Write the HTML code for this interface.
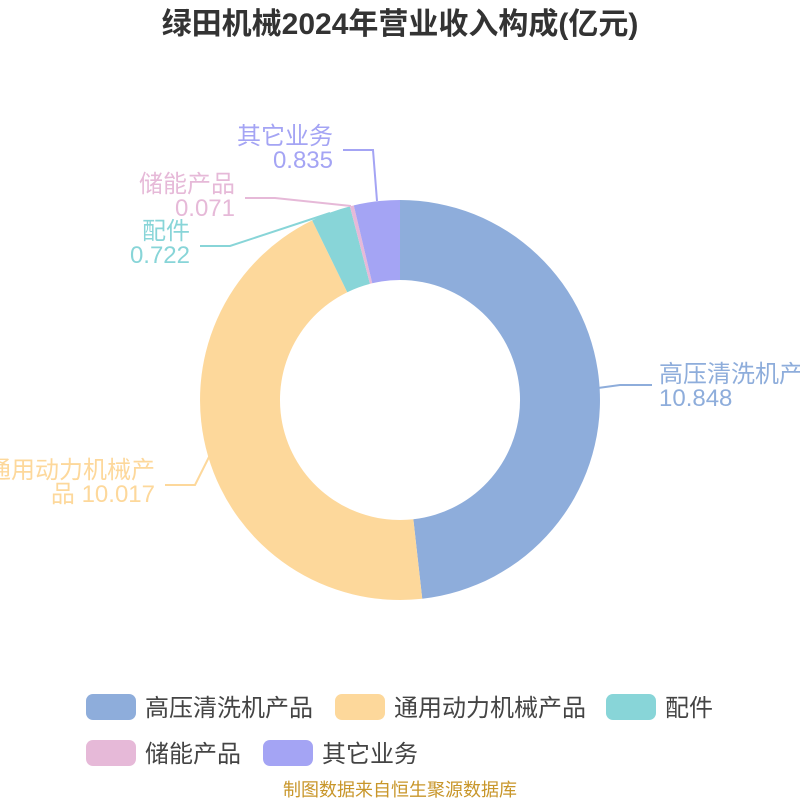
<!DOCTYPE html>
<html><head><meta charset="utf-8"><style>
body{margin:0;background:#fff;width:800px;height:800px;overflow:hidden}
svg text{font-family:"Liberation Sans","Noto Sans CJK SC",sans-serif}
</style></head><body>
<svg width="800" height="800" viewBox="0 0 800 800" xmlns="http://www.w3.org/2000/svg">
<text x="400" y="34" text-anchor="middle" font-size="30" font-weight="bold" fill="#333">绿田机械2024年营业收入构成(亿元)</text>
<path d="M400,200 A200,200 0 0 1 422.22,598.76 L413.33,519.26 A120,120 0 0 0 400,280 Z" fill="#8eaddb"/>
<path d="M422.22,598.76 A200,200 0 0 1 312.14,220.34 L347.28,292.20 A120,120 0 0 0 413.33,519.26 Z" fill="#fdd89b"/>
<path d="M312.14,220.34 A200,200 0 0 1 349.92,206.38 L369.95,283.83 A120,120 0 0 0 347.28,292.20 Z" fill="#88d5d8"/>
<path d="M349.92,206.38 A200,200 0 0 1 353.78,205.42 L372.27,283.25 A120,120 0 0 0 369.95,283.83 Z" fill="#e6b9d8"/>
<path d="M353.78,205.42 A200,200 0 0 1 400,200 L400,280 A120,120 0 0 0 372.27,283.25 Z" fill="#a4a4f4"/>
<g fill="none" stroke-width="2">
<polyline points="598,388 620,385 652,385" stroke="#8eaddb"/>
<polyline points="210,455 195,485 165,485" stroke="#fdd89b"/>
<polyline points="330,213 230,246 200,246" stroke="#88d5d8"/>
<polyline points="351,206 275,198 245,198" stroke="#e6b9d8"/>
<polyline points="377,201 373,150 343,150" stroke="#a4a4f4"/>
</g>
<g font-size="24">
<text x="659" y="382" fill="#8eaddb">高压清洗机产</text>
<text x="659" y="406" fill="#8eaddb">10.848</text>
<text x="155" y="478" text-anchor="end" fill="#fdd89b">通用动力机械产</text>
<text x="155" y="502" text-anchor="end" fill="#fdd89b">品 10.017</text>
<text x="190" y="239" text-anchor="end" fill="#88d5d8">配件</text>
<text x="190" y="263" text-anchor="end" fill="#88d5d8">0.722</text>
<text x="235" y="192" text-anchor="end" fill="#e6b9d8">储能产品</text>
<text x="235" y="216" text-anchor="end" fill="#e6b9d8">0.071</text>
<text x="333" y="144" text-anchor="end" fill="#a4a4f4">其它业务</text>
<text x="333" y="168" text-anchor="end" fill="#a4a4f4">0.835</text>
</g>
<g font-size="24" fill="#444">
<rect x="86" y="694" width="50" height="26" rx="7" fill="#8eaddb"/><text x="145" y="716">高压清洗机产品</text>
<rect x="335" y="694" width="50" height="26" rx="7" fill="#fdd89b"/><text x="394" y="716">通用动力机械产品</text>
<rect x="606" y="694" width="50" height="26" rx="7" fill="#88d5d8"/><text x="665" y="716">配件</text>
<rect x="86" y="740" width="50" height="26" rx="7" fill="#e6b9d8"/><text x="145" y="762">储能产品</text>
<rect x="263" y="740" width="50" height="26" rx="7" fill="#a4a4f4"/><text x="322" y="762">其它业务</text>
</g>
<text x="400" y="796" text-anchor="middle" font-size="18" fill="#c8962a">制图数据来自恒生聚源数据库</text>
</svg>
</body></html>
